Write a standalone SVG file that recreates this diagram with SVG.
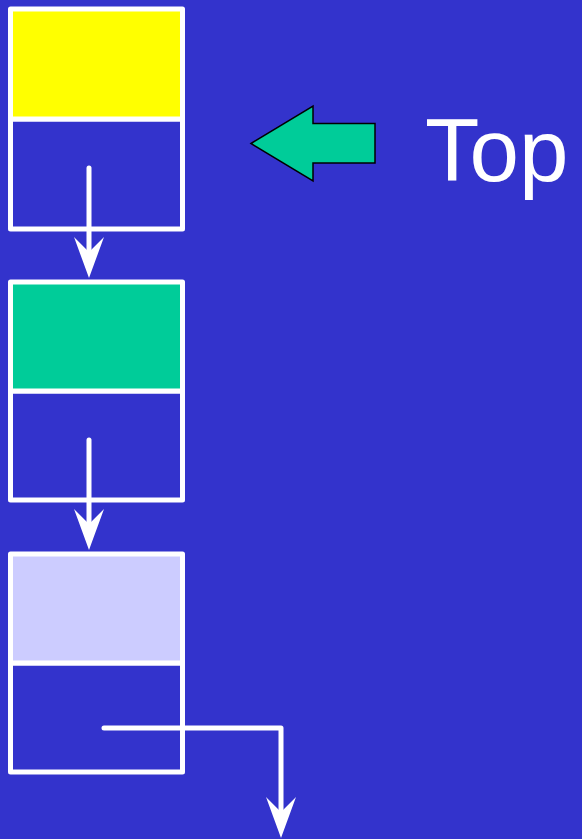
<svg xmlns="http://www.w3.org/2000/svg" width="582" height="839" viewBox="0 0 582 839">
<style>
.cell{stroke:#FFFFFF;stroke-width:5;stroke-linejoin:round}
.conn{fill:none;stroke:#FFFFFF;stroke-width:5;stroke-linecap:round;stroke-linejoin:round}
.head{fill:#FFFFFF}
</style>
<rect x="0" y="0" width="582" height="839" fill="#3333CC"/>
<g id="node1">
<rect class="cell" x="10.5" y="119" width="172" height="110" fill="#3333CC"/>
<rect class="cell" x="10.5" y="9" width="172" height="110" fill="#FFFF00"/>
</g>
<g id="node2">
<rect class="cell" x="10.5" y="391" width="172" height="109" fill="#3333CC"/>
<rect class="cell" x="10.5" y="282" width="172" height="109" fill="#00CC99"/>
</g>
<g id="node3">
<rect class="cell" x="10.5" y="663" width="172" height="109" fill="#3333CC"/>
<rect class="cell" x="10.5" y="554" width="172" height="109" fill="#CCCCFF"/>
</g>
<g id="topPointer">
<polygon points="251,143.5 313,106 313,123.5 375,123.5 375,163 313,163 313,181" fill="#00CC99" stroke="#000000" stroke-width="1.5" stroke-linejoin="miter"/>
<text x="425" y="181" font-family="Liberation Sans, Arial, sans-serif" font-size="89" fill="#FFFFFF">Top</text>
</g>
<g id="connectors">
<path class="conn" d="M89,168 L89,255"/>
<polygon class="head" points="89,278 74,237 89,252 104,237"/>
<path class="conn" d="M89,440 L89,527"/>
<polygon class="head" points="89,550 74,509 89,524 104,509"/>
<path class="conn" d="M104,728 L281,728 L281,815"/>
<polygon class="head" points="281,838 266,797 281,812 296,797"/>
</g>
</svg>
